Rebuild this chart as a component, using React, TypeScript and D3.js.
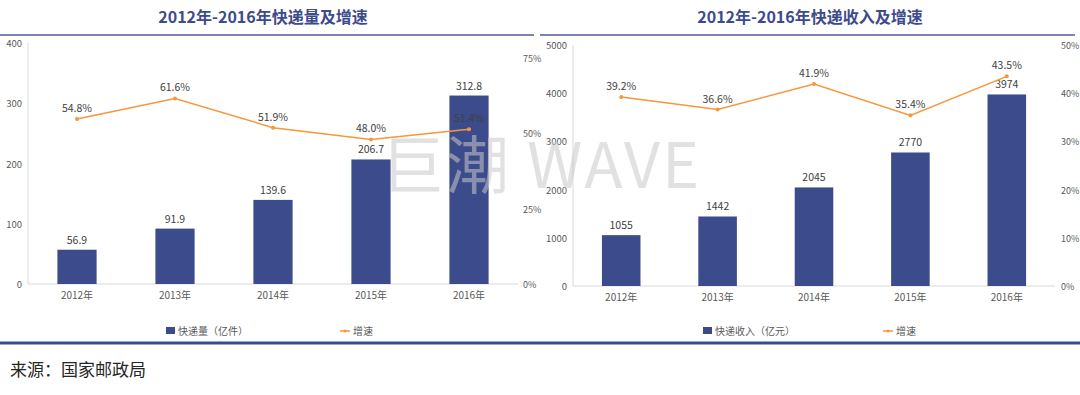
import React, { useEffect, useRef } from 'react';
import * as d3 from 'd3';

const years = ['2012年', '2013年', '2014年', '2015年', '2016年'];
const volume = [56.9, 91.9, 139.6, 206.7, 312.8];
const volumeGrowth = [54.8, 61.6, 51.9, 48.0, 51.4];
const revenue = [1055, 1442, 2045, 2770, 3974];
const revenueGrowth = [39.2, 36.6, 41.9, 35.4, 43.5];
const volumeTicks = [0, 100, 200, 300, 400];
const volumeGrowthTicks = [0, 25, 50, 75];
const revenueTicks = [0, 1000, 2000, 3000, 4000, 5000];
const revenueGrowthTicks = [0, 10, 20, 30, 40, 50];

const BAR = '#3c4b8b';
const LINE = '#f7963c';
const TEXT = '#595959';
const FONT = '"Noto Sans CJK SC", "Liberation Sans", sans-serif';

const drawPanel = (root, cfg) => {
  const { x0, x1, top, bottom, title, values, growth, leftMax, rightMax, leftTicks, rightTicks, legendName, legendX, growthX, leftLabelX, rightLabelX, fmt } = cfg;

  root.append('text')
    .attr('x', cfg.titleX).attr('y', 23)
    .attr('text-anchor', 'middle')
    .attr('font-size', 16).attr('font-weight', 'bold')
    .attr('fill', '#3d4b8c')
    .text(title);

  root.append('line')
    .attr('x1', cfg.lineX0).attr('x2', cfg.lineX1)
    .attr('y1', 35).attr('y2', 35)
    .attr('stroke', '#4c5b9c').attr('stroke-width', 1.5);

  const x = d3.scaleBand().domain(years).range([x0, x1]).paddingInner(0.6).paddingOuter(0.3);
  const y = d3.scaleLinear().domain([0, leftMax]).range([bottom, top]);
  const y2 = d3.scaleLinear().domain([0, rightMax]).range([bottom, top]);

  // axis lines, light gray
  root.append('line').attr('x1', x0).attr('x2', x0).attr('y1', top).attr('y2', bottom)
    .attr('stroke', '#d9d9d9');
  root.append('line').attr('x1', x0).attr('x2', x1).attr('y1', bottom).attr('y2', bottom)
    .attr('stroke', '#d9d9d9');

  root.append('g').selectAll('text').data(leftTicks).join('text')
    .attr('x', leftLabelX).attr('y', (d) => y(d) + 4)
    .attr('text-anchor', 'end').attr('font-size', 9.5).attr('fill', TEXT)
    .text((d) => d);

  root.append('g').selectAll('text').data(rightTicks).join('text')
    .attr('x', rightLabelX).attr('y', (d) => y2(d) + 4)
    .attr('text-anchor', 'start').attr('font-size', 9).attr('fill', TEXT)
    .text((d) => `${d}%`);

  root.append('g').selectAll('text').data(years).join('text')
    .attr('x', (d) => x(d) + x.bandwidth() / 2).attr('y', bottom + 15)
    .attr('text-anchor', 'middle').attr('font-size', 10).attr('fill', TEXT)
    .text((d) => d);

  root.append('g').selectAll('rect').data(values).join('rect')
    .attr('x', (d, i) => x(years[i]))
    .attr('y', (d) => y(d))
    .attr('width', x.bandwidth())
    .attr('height', (d) => bottom - y(d))
    .attr('fill', BAR);

  root.append('g').selectAll('text').data(values).join('text')
    .attr('x', (d, i) => x(years[i]) + x.bandwidth() / 2)
    .attr('y', (d) => y(d) - 6)
    .attr('text-anchor', 'middle').attr('font-size', 10.5).attr('fill', '#404040')
    .text(fmt);

  const line = d3.line()
    .x((d, i) => x(years[i]) + x.bandwidth() / 2)
    .y((d) => y2(d));

  root.append('path')
    .attr('d', line(growth))
    .attr('fill', 'none').attr('stroke', LINE).attr('stroke-width', 1.5);

  root.append('g').selectAll('circle').data(growth).join('circle')
    .attr('cx', (d, i) => x(years[i]) + x.bandwidth() / 2)
    .attr('cy', (d) => y2(d)).attr('r', 2).attr('fill', LINE);

  root.append('g').selectAll('text').data(growth).join('text')
    .attr('x', (d, i) => x(years[i]) + x.bandwidth() / 2)
    .attr('y', (d) => y2(d) - 7)
    .attr('text-anchor', 'middle').attr('font-size', 10.5).attr('fill', '#404040')
    .text((d) => `${d.toFixed(1)}%`);

  // legend
  root.append('rect').attr('x', legendX).attr('y', 327).attr('width', 9).attr('height', 7).attr('fill', BAR);
  root.append('text').attr('x', legendX + 12).attr('y', 334.5)
    .attr('font-size', 10).attr('fill', TEXT).text(legendName);
  root.append('line').attr('x1', growthX).attr('x2', growthX + 10).attr('y1', 331).attr('y2', 331)
    .attr('stroke', LINE).attr('stroke-width', 1.5);
  root.append('circle').attr('cx', growthX + 5).attr('cy', 331).attr('r', 1.5).attr('fill', LINE);
  root.append('text').attr('x', growthX + 13).attr('y', 334.5)
    .attr('font-size', 10).attr('fill', TEXT).text('增速');
};

const App = () => {
  const ref = useRef(null);

  useEffect(() => {
    document.body.style.margin = '0';
    const svg = d3.select(ref.current);
    svg.selectAll('*').remove();
    svg.attr('font-family', FONT);

    svg.append('rect').attr('width', 1080).attr('height', 395).attr('fill', '#fff');

    drawPanel(svg.append('g'), {
      title: '2012年-2016年快递量及增速', titleX: 263,
      lineX0: 0, lineX1: 534,
      x0: 28, x1: 518, top: 43, bottom: 284,
      values: volume, growth: volumeGrowth,
      leftMax: 400, rightMax: 80,
      leftTicks: volumeTicks, rightTicks: volumeGrowthTicks,
      leftLabelX: 22, rightLabelX: 523,
      legendName: '快递量（亿件）', legendX: 166, growthX: 340,
      fmt: (d) => d.toFixed(1),
    });

    drawPanel(svg.append('g'), {
      title: '2012年-2016年快递收入及增速', titleX: 810,
      lineX0: 540, lineX1: 1075,
      x0: 573, x1: 1055, top: 45, bottom: 286,
      values: revenue, growth: revenueGrowth,
      leftMax: 5000, rightMax: 50,
      leftTicks: revenueTicks, rightTicks: revenueGrowthTicks,
      leftLabelX: 567, rightLabelX: 1061,
      legendName: '快递收入（亿元）', legendX: 703, growthX: 883,
      fmt: (d) => d,
    });

    // watermark
    svg.append('text')
      .attr('x', 541).attr('y', 188)
      .attr('text-anchor', 'middle')
      .attr('font-size', 63)
      .attr('fill', '#c8c8c8').attr('fill-opacity', 0.55)
      .attr('letter-spacing', 2)
      .text('巨潮 WAVE');

    svg.append('line')
      .attr('x1', 0).attr('x2', 1080).attr('y1', 343).attr('y2', 343)
      .attr('stroke', '#3c4b8b').attr('stroke-width', 3);

    svg.append('text')
      .attr('x', 10).attr('y', 376)
      .attr('font-size', 17).attr('fill', '#262626')
      .text('来源：国家邮政局');
  }, []);

  return <svg ref={ref} width={1080} height={395} style={{ display: 'block' }} />;
};

export default App;
